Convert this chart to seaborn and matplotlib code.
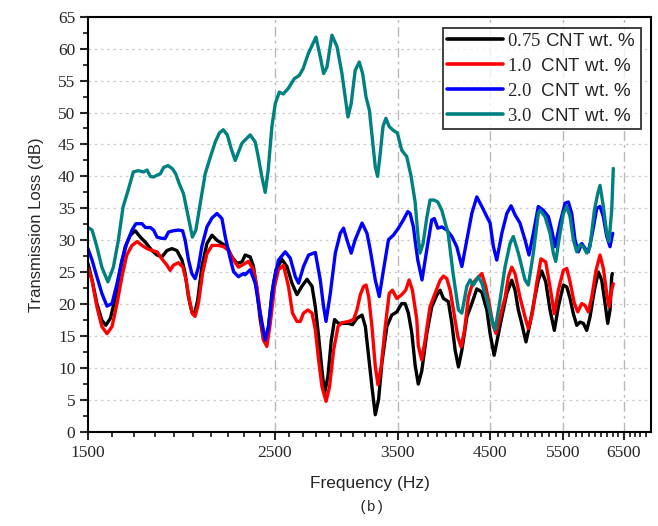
import matplotlib
matplotlib.use("Agg")
import matplotlib.pyplot as plt
import matplotlib.ticker as mticker
import seaborn as sns
import pandas as pd

# Transmission loss (dB) vs frequency (Hz)
freq_075 = [1500, 1517, 1537, 1558, 1575, 1595, 1617, 1638, 1661, 1684, 1707, 1731, 1755, 1787,
            1812, 1836, 1862, 1887, 1913, 1940, 1957, 1975, 1993, 2007, 2025, 2048, 2077, 2106,
            2135, 2164, 2194, 2224, 2255, 2286, 2306, 2338, 2359, 2381, 2403, 2425, 2441, 2458,
            2481, 2509, 2550, 2585, 2621, 2657, 2693, 2731, 2769, 2794, 2819, 2845, 2866, 2892,
            2919, 2945, 2977, 3018, 3060, 3093, 3131, 3175, 3204, 3233, 3262, 3292, 3322, 3352,
            3398, 3444, 3492, 3539, 3572, 3604, 3638, 3671, 3703, 3738, 3790, 3842, 3895, 3931,
            3967, 4021, 4059, 4096, 4133, 4172, 4229, 4287, 4346, 4406, 4467, 4507, 4557, 4603,
            4654, 4718, 4782, 4825, 4869, 4914, 4972, 5027, 5086, 5142, 5190, 5248, 5310, 5373,
            5432, 5507, 5559, 5609, 5660, 5713, 5764, 5817, 5871, 5924, 5995, 6061, 6117, 6173,
            6218, 6257, 6286, 6296]
tl_075 = [26.4, 23.75, 20.1, 17.5, 16.7, 17.8, 21.1, 25.3, 29.0, 30.8, 31.5, 30.5, 29.7, 28.4,
          27.7, 27.4, 28.4, 28.7, 28.4, 26.9, 24.8, 21.1, 18.8, 18.4, 20.6, 25.8, 29.5, 30.8,
          30.0, 29.5, 29.0, 27.4, 26.4, 26.6, 27.7, 27.4, 25.9, 22.2, 17.6, 14.4, 13.9, 16.5,
          21.7, 25.4, 27.0, 25.9, 23.3, 21.5, 22.8, 23.9, 22.8, 19.6, 15.0, 9.7, 6.1, 8.7,
          14.4, 17.6, 17.0, 17.0, 17.0, 16.8, 17.8, 18.3, 16.5, 11.8, 7.1, 2.7, 5.1, 10.8,
          16.5, 18.3, 18.8, 20.1, 20.1, 18.6, 15.5, 10.5, 7.5, 9.5, 15.4, 19.6, 21.4, 22.2,
          20.9, 20.4, 17.0, 12.8, 10.2, 12.8, 18.0, 20.1, 22.4, 21.9, 19.1, 15.4, 12.0, 14.9,
          18.0, 21.7, 23.75, 22.2, 19.1, 17.0, 14.1, 17.0, 20.6, 23.75, 25.2, 23.5, 19.1, 15.9,
          19.6, 23.0, 22.7, 20.9, 18.5, 16.7, 17.2, 17.0, 15.9, 18.0, 22.2, 25.05, 23.75, 20.1,
          17.0, 19.1, 24.3, 24.8]

freq_10 = [1500, 1517, 1537, 1558, 1580, 1602, 1624, 1646, 1668, 1692, 1716, 1739, 1763, 1787,
           1812, 1836, 1862, 1878, 1895, 1921, 1945, 1962, 1980, 1996, 2011, 2029, 2052, 2077,
           2106, 2144, 2174, 2204, 2234, 2264, 2286, 2327, 2359, 2381, 2403, 2425, 2447, 2470,
           2499, 2526, 2561, 2596, 2625, 2657, 2681, 2705, 2738, 2769, 2794, 2819, 2845, 2877,
           2905, 2938, 2973, 3005, 3060, 3102, 3131, 3160, 3189, 3210, 3233, 3262, 3292, 3316,
           3346, 3383, 3420, 3450, 3492, 3539, 3578, 3611, 3644, 3688, 3703, 3738, 3773, 3824,
           3877, 3931, 3967, 4004, 4040, 4077, 4126, 4164, 4202, 4247, 4294, 4346, 4406, 4455,
           4507, 4548, 4582, 4632, 4696, 4739, 4782, 4825, 4891, 4959, 5004, 5059, 5118, 5180,
           5248, 5310, 5373, 5432, 5507, 5559, 5609, 5676, 5729, 5791, 5844, 5897, 5952, 6022,
           6088, 6144, 6201, 6240, 6286, 6314]
tl_10 = [25.8, 23.75, 19.6, 16.5, 15.4, 16.5, 20.1, 24.3, 27.7, 29.2, 29.8, 29.2, 28.7, 28.4,
         28.2, 27.1, 26.1, 25.3, 26.1, 26.5, 25.8, 23.75, 20.6, 18.5, 18.1, 20.1, 24.8, 27.9,
         29.2, 29.2, 29.0, 28.4, 26.9, 25.8, 26.1, 26.7, 25.4, 22.8, 18.6, 14.4, 13.4, 17.0,
         22.8, 25.4, 26.1, 22.8, 18.6, 17.3, 17.3, 18.6, 19.1, 18.6, 16.0, 11.3, 7.1, 4.8,
         7.1, 12.9, 16.5, 17.1, 17.3, 17.6, 19.1, 21.5, 22.8, 23.0, 21.2, 16.5, 10.3, 7.4,
         10.3, 16.5, 21.7, 22.2, 20.9, 21.5, 22.2, 23.8, 22.2, 17.6, 13.5, 11.3, 14.4, 19.6,
         21.7, 23.75, 24.4, 24.0, 22.2, 19.1, 14.9, 13.3, 15.9, 21.1, 23.2, 24.0, 24.8, 22.7,
         19.3, 16.5, 15.4, 18.0, 21.1, 24.3, 25.8, 24.8, 21.1, 18.0, 16.2, 18.5, 23.2, 27.1,
         26.6, 22.7, 18.5, 22.2, 25.3, 25.6, 23.5, 20.1, 18.8, 20.1, 19.8, 18.8, 21.1, 25.3,
         27.7, 25.6, 21.7, 19.6, 22.2, 23.2]

freq_20 = [1500, 1517, 1537, 1558, 1580, 1602, 1624, 1646, 1668, 1692, 1710, 1739, 1755, 1779,
           1795, 1812, 1836, 1853, 1870, 1895, 1921, 1943, 1957, 1975, 1993, 2011, 2029, 2048,
           2077, 2106, 2135, 2164, 2184, 2214, 2234, 2264, 2295, 2306, 2338, 2370, 2403, 2436,
           2458, 2492, 2526, 2573, 2609, 2645, 2669, 2705, 2743, 2794, 2832, 2858, 2877, 2911,
           2951, 2991, 3018, 3046, 3082, 3116, 3175, 3218, 3247, 3292, 3328, 3367, 3413, 3459,
           3507, 3555, 3598, 3621, 3654, 3671, 3698, 3741, 3790, 3842, 3869, 3906, 3949, 4004,
           4059, 4114, 4172, 4229, 4287, 4346, 4406, 4467, 4507, 4548, 4590, 4654, 4718, 4773,
           4825, 4891, 4959, 5013, 5073, 5142, 5213, 5286, 5335, 5384, 5457, 5533, 5583, 5635,
           5686, 5738, 5791, 5844, 5897, 5962, 6034, 6088, 6144, 6201, 6257, 6304]
tl_20 = [28.7, 26.9, 24.3, 21.7, 19.7, 20.1, 23.2, 26.9, 29.5, 31.6, 32.6, 32.6, 32.0, 32.0,
         31.6, 30.5, 30.3, 30.3, 31.3, 31.5, 31.6, 31.5, 30.0, 26.9, 24.8, 24.0, 25.8, 29.0,
         32.1, 33.5, 34.2, 33.4, 30.5, 27.1, 25.1, 24.3, 24.8, 24.6, 25.4, 23.3, 18.6, 14.4,
         16.5, 23.3, 26.9, 28.2, 27.2, 24.3, 23.3, 25.9, 27.7, 28.1, 23.8, 19.6, 17.3, 21.7,
         28.0, 31.1, 31.9, 30.1, 28.0, 30.1, 32.7, 31.1, 28.5, 23.8, 21.2, 25.4, 30.1, 30.8,
         31.9, 33.2, 34.5, 34.2, 32.1, 30.0, 26.9, 23.8, 28.5, 33.2, 33.4, 31.9, 32.1, 31.6,
         30.6, 29.0, 25.9, 30.05, 34.2, 36.8, 35.3, 33.7, 32.7, 29.0, 26.9, 31.1, 34.2, 35.4,
         34.0, 32.7, 30.05, 27.7, 31.1, 35.3, 34.7, 33.7, 31.6, 29.0, 32.7, 35.8, 36.0, 34.2,
         30.05, 28.2, 29.5, 28.75, 28.2, 31.1, 35.0, 35.3, 33.7, 30.6, 29.0, 31.1]

freq_30 = [1500, 1517, 1537, 1558, 1584, 1608, 1630, 1651, 1674, 1698, 1721, 1747, 1763, 1779,
           1795, 1812, 1828, 1845, 1867, 1890, 1907, 1925, 1948, 1966, 1984, 1996, 2015, 2039,
           2067, 2096, 2125, 2149, 2172, 2196, 2220, 2244, 2286, 2338, 2370, 2390, 2414, 2436,
           2456, 2481, 2504, 2532, 2559, 2594, 2638, 2674, 2703, 2740, 2769, 2799, 2832, 2858,
           2884, 2924, 2965, 3005, 3032, 3055, 3082, 3116, 3151, 3180, 3210, 3239, 3267, 3292,
           3313, 3337, 3362, 3389, 3420, 3459, 3497, 3539, 3588, 3631, 3671, 3701, 3721, 3752,
           3790, 3824, 3866, 3906, 3949, 4018, 4073, 4133, 4172, 4229, 4267, 4306, 4365, 4406,
           4467, 4528, 4570, 4632, 4696, 4760, 4803, 4869, 4959, 5004, 5073, 5142, 5166, 5238,
           5310, 5358, 5394, 5442, 5507, 5559, 5609, 5660, 5713, 5764, 5817, 5871, 5924, 5995,
           6050, 6088, 6144, 6201, 6240, 6286, 6314]
tl_30 = [32.0, 31.6, 29.0, 25.8, 23.5, 25.8, 30.0, 35.2, 37.8, 40.7, 40.9, 40.7, 41.0, 40.0,
         39.9, 40.2, 40.4, 41.4, 41.7, 41.2, 40.4, 38.9, 37.3, 34.7, 32.1, 30.5, 31.6, 35.7,
         40.4, 43.0, 45.4, 46.8, 47.3, 46.5, 44.3, 42.5, 45.2, 46.5, 45.4, 43.1, 39.9, 37.5,
         41.0, 47.8, 51.4, 53.2, 52.9, 53.75, 55.3, 55.8, 56.9, 59.2, 60.5, 61.8, 58.7, 56.1,
         57.1, 62.1, 60.3, 56.1, 52.4, 49.3, 51.4, 56.6, 57.9, 56.1, 52.4, 50.4, 45.7, 41.5,
         40.0, 43.6, 47.8, 49.1, 47.8, 47.2, 46.8, 44.1, 43.1, 40.0, 36.0, 30.5, 28.0, 29.5,
         33.5, 36.3, 36.3, 36.0, 34.7, 31.1, 24.8, 19.1, 18.6, 22.8, 23.8, 23.0, 24.3, 23.3,
         20.7, 17.6, 16.0, 20.7, 25.9, 29.5, 30.6, 28.0, 23.8, 23.0, 28.0, 34.2, 34.7, 33.7,
         31.1, 28.0, 26.7, 30.1, 34.2, 35.3, 33.7, 30.1, 28.2, 29.3, 29.0, 28.0, 29.0, 34.7,
         37.3, 38.6, 35.3, 31.1, 29.8, 34.7, 41.25]

series_labels = [r"$\mathrm{0.75}$ CNT wt. %", r"$\mathrm{1.0}$  CNT wt. %",
                 r"$\mathrm{2.0}$  CNT wt. %", r"$\mathrm{3.0}$  CNT wt. %"]
series_colors = ["#000000", "#ff0000", "#0000ff", "#008080"]
x_ticks = [1500, 2500, 3500, 4500, 5500, 6500]

frames = []
for lab, f, v in zip(series_labels, [freq_075, freq_10, freq_20, freq_30],
                     [tl_075, tl_10, tl_20, tl_30]):
    frames.append(pd.DataFrame({"freq": f, "tl": v, "series": lab}))
df = pd.concat(frames, ignore_index=True)

sns.set_style("white")
plt.rcParams["font.family"] = ["Liberation Sans", "DejaVu Sans"]
plt.rcParams["mathtext.fontset"] = "custom"
plt.rcParams["mathtext.rm"] = "Liberation Serif"

fig = plt.figure(figsize=(6.58, 5.26), dpi=100)
ax = fig.add_axes([0.1337, 0.1787, 0.8557, 0.7896])

sns.lineplot(data=df, x="freq", y="tl", hue="series", palette=series_colors,
             hue_order=series_labels, estimator=None, sort=False, linewidth=2.4, ax=ax)

ax.set_xscale("log")
ax.set_xlim(1500, 7000)
ax.set_ylim(0, 65)
ax.xaxis.set_major_locator(mticker.FixedLocator(x_ticks))
ax.xaxis.set_major_formatter(mticker.FixedFormatter([str(t) for t in x_ticks]))
ax.xaxis.set_minor_locator(mticker.FixedLocator(range(1600, 7000, 100)))
ax.xaxis.set_minor_formatter(mticker.NullFormatter())
ax.yaxis.set_major_locator(mticker.MultipleLocator(5))
ax.yaxis.set_minor_locator(mticker.MultipleLocator(2.5))

ax.grid(axis="y", which="major", color="#cccccc", linestyle=(0, (2, 3)), linewidth=0.9)
for t in x_ticks[1:]:
    ax.axvline(t, color="#b8b8b8", linestyle=(0, (7, 3, 2, 3)), linewidth=1.0, zorder=0)

for s in ax.spines.values():
    s.set_color("black")
    s.set_linewidth(1.5)
ax.tick_params(which="major", direction="out", length=6, width=1.5, bottom=True, left=True,
               top=False, right=False, labelsize=12.5, pad=3)
ax.tick_params(which="minor", direction="out", length=3.5, width=1.3, bottom=True, left=True,
               top=False, right=False)
for lbl in ax.get_xticklabels() + ax.get_yticklabels():
    lbl.set_family("Liberation Serif")

ax.set_xlabel("Frequency (Hz)", fontsize=12.5, labelpad=11)
ax.set_ylabel("Transmission Loss (dB)", fontsize=12, labelpad=10)

leg = ax.legend(loc="upper right", bbox_to_anchor=(0.982, 0.973), frameon=True, fancybox=False,
                fontsize=13.5, handlelength=2.95, handletextpad=0.25, borderpad=0.25,
                labelspacing=0.42, borderaxespad=0)
leg.get_frame().set_edgecolor("black")
leg.get_frame().set_linewidth(1.3)
for line in leg.get_lines():
    line.set_linewidth(2.6)

fig.text(0.5 + 0.065, 0.028, "(b)", family="Liberation Mono", fontsize=10.5, ha="center")

fig.savefig("out.png", dpi=100)
